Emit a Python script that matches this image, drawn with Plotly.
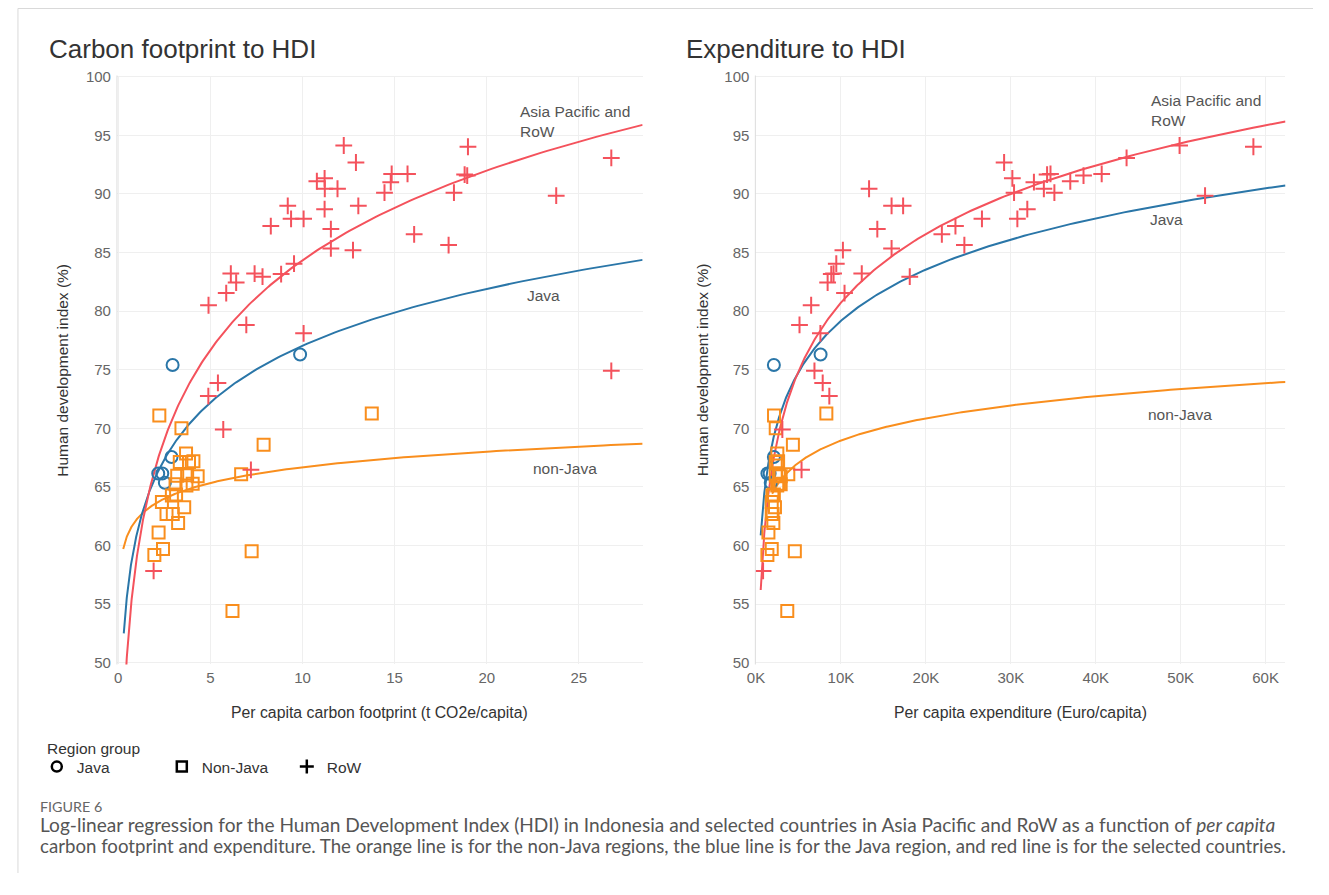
import numpy as np
import plotly.graph_objects as go

# ---- Region data: HDI (%), carbon footprint (t CO2e/capita), expenditure (thousand Euro/capita)
java_hdi = [75.4, 76.3, 67.55, 66.15, 66.15, 65.35]
java_cf = [2.95, 9.87, 2.89, 2.17, 2.39, 2.53]
java_exp = [2.1, 7.6, 2.1, 1.34, 1.6, 1.73]

nonjava_hdi = [71.1, 70.0, 68.6, 67.85, 67.13, 67.13, 67.18, 65.95, 66.0, 65.92, 66.09, 65.22, 65.11, 65.28,
               64.27, 64.36, 63.71, 63.27, 62.68, 62.68, 61.92, 61.11, 59.71, 59.18, 59.51, 54.42, 71.27]
nonjava_cf = [2.23, 3.43, 7.89, 3.68, 3.34, 3.84, 4.08, 3.2, 3.74, 4.31, 6.67, 3.11, 3.7, 4.04,
              2.91, 3.14, 2.37, 3.58, 2.62, 2.96, 3.25, 2.19, 2.43, 1.96, 7.24, 6.2, 13.76]
nonjava_exp = [2.12, 2.32, 4.34, 2.51, 2.32, 2.51, 2.6, 2.32, 2.7, 2.9, 3.8, 2.9, 2.5, 2.7,
               1.93, 2.1, 1.85, 2.23, 1.85, 1.95, 2.04, 1.46, 1.85, 1.34, 4.57, 3.68, 8.28]

row_hdi = [94.13, 94.02, 93.07, 92.68, 91.7, 91.7, 91.65, 91.56, 91.33, 91.08, 91.0, 90.44, 90.44, 90.1,
           90.1, 89.85, 88.98, 88.98, 88.7, 87.87, 87.87, 87.25, 87.0, 86.55, 85.63, 85.35, 85.2, 84.05,
           83.2, 83.2, 83.16, 82.94, 82.43, 81.54, 80.5, 78.82, 78.1, 74.9, 73.87, 72.75, 69.9, 66.46, 57.83]
row_cf = [12.24, 18.98, 26.76, 12.9, 14.84, 15.7, 18.8, 18.94, 11.2, 10.78, 14.79, 11.21, 11.9, 14.45,
          18.22, 23.77, 9.2, 13.03, 11.2, 9.38, 10.06, 8.28, 11.54, 16.06, 17.93, 11.54, 12.74, 9.54,
          6.11, 7.4, 8.84, 7.83, 6.4, 5.86, 4.9, 6.95, 10.06, 26.76, 5.41, 4.89, 5.7, 7.2, 1.92]
row_exp = [49.87, 58.56, 43.63, 29.21, 34.67, 40.7, 34.27, 38.56, 30.18, 37.0, 32.72, 33.89, 13.31, 30.38,
           35.13, 52.87, 15.96, 17.32, 31.94, 30.77, 26.6, 23.48, 14.28, 21.88, 24.53, 15.96, 10.23, 9.45,
           9.13, 12.45, 8.86, 18.1, 8.43, 10.42, 6.49, 5.12, 7.58, 6.88, 7.85, 8.63, 3.1, 5.36, 0.83]

# ---- Log-linear fits: HDI = intercept + slope * ln(x), drawn over [x_start, x_end]
fit_cf = {
    "RoW": dict(intercept=58.92, slope=11.04, x_start=0.28, x_end=28.46),
    "Java": dict(intercept=60.93, slope=7.0, x_start=0.3, x_end=28.46),
    "Non-Java": dict(intercept=62.23, slope=1.93, x_start=0.27, x_end=28.46),
}
fit_exp = {
    "RoW": dict(intercept=61.26, slope=8.45, x_start=0.55, x_end=62.34),
    "Java": dict(intercept=64.64, slope=6.31, x_start=0.55, x_end=62.34),
    "Non-Java": dict(intercept=62.67, slope=2.73, x_start=1.9, x_end=62.34),
}

cf_ticks = [0, 5, 10, 15, 20, 25]
exp_ticks = [0, 10, 20, 30, 40, 50, 60]
exp_tick_text = ["0K", "10K", "20K", "30K", "40K", "50K", "60K"]
hdi_ticks = [50, 55, 60, 65, 70, 75, 80, 85, 90, 95, 100]

COLORS = {"Java": "#2a76a8", "Non-Java": "#f98e1d", "RoW": "#f4525c"}
SYMBOLS = {"Java": "circle-open", "Non-Java": "square-open", "RoW": "cross-thin-open"}
FONT = "Liberation Sans"

# the page body keeps its default 8px margin, so the figure is 16px smaller than the window
PAGE_W, PAGE_H, BODY_MARGIN = 1329, 895, 8
W, H = PAGE_W - 2 * BODY_MARGIN, PAGE_H - 2 * BODY_MARGIN


def px_x(p):
    """Page x pixel -> paper fraction."""
    return (p - BODY_MARGIN) / W


def px_y(p):
    """Page y pixel (from top) -> paper fraction."""
    return 1 - (p - BODY_MARGIN) / H


fig = go.Figure()

groups = [
    ("Java", java_hdi, java_cf, java_exp),
    ("Non-Java", nonjava_hdi, nonjava_cf, nonjava_exp),
    ("RoW", row_hdi, row_cf, row_exp),
]

# fitted curves
for fits, xa, ya in [(fit_cf, "x", "y"), (fit_exp, "x2", "y2")]:
    for name in ["Non-Java", "Java", "RoW"]:
        f = fits[name]
        xs = np.geomspace(f["x_start"], f["x_end"], 300)
        ys = f["intercept"] + f["slope"] * np.log(xs)
        fig.add_trace(go.Scatter(x=xs, y=ys, mode="lines", xaxis=xa, yaxis=ya,
                                 line=dict(color=COLORS[name], width=2),
                                 showlegend=False, hoverinfo="skip"))

# region markers
for name, hdi, cf, exp in groups:
    mk = dict(symbol=SYMBOLS[name], size=12, color=COLORS[name], line=dict(width=2, color=COLORS[name]))
    fig.add_trace(go.Scatter(x=cf, y=hdi, mode="markers", marker=mk, xaxis="x", yaxis="y",
                             showlegend=False, name=name))
    fig.add_trace(go.Scatter(x=exp, y=hdi, mode="markers", marker=mk, xaxis="x2", yaxis="y2",
                             showlegend=False, name=name))

# legend entries (black symbols)
for name in ["Java", "Non-Java", "RoW"]:
    fig.add_trace(go.Scatter(x=[None], y=[None], mode="markers", name=name,
                             marker=dict(symbol=SYMBOLS[name], size=10, color="black",
                                         line=dict(width=2.5, color="black"))))

y_dom = [px_y(675.1), px_y(76.6)]
grid = "#efefef"
tickfont = dict(family=FONT, size=15, color="#666")
x_common = dict(showgrid=True, gridcolor=grid, gridwidth=1, zeroline=False, showline=False,
                ticks="", tickfont=tickfont, ticklabelstandoff=3)
y_common = dict(showgrid=True, gridcolor=grid, gridwidth=1, zeroline=False, showline=False,
                ticks="", tickfont=tickfont, ticklabelstandoff=5)

fig.update_layout(
    width=W, height=H,
    margin=dict(l=0, r=0, t=0, b=0),
    paper_bgcolor="white", plot_bgcolor="white",
    font=dict(family=FONT, color="#333"),
    xaxis=dict(domain=[px_x(116.7), px_x(646)], range=[-0.07, 28.46], tickvals=cf_ticks,
               anchor="y", **x_common),
    yaxis=dict(domain=y_dom, range=[49.85, 100.1], tickvals=hdi_ticks, anchor="x", **y_common),
    xaxis2=dict(domain=[px_x(759.5), px_x(1293.3)], range=[-0.08, 62.34], tickvals=exp_ticks,
                ticktext=exp_tick_text, anchor="y2", **x_common),
    yaxis2=dict(domain=y_dom, range=[49.85, 100.1], tickvals=hdi_ticks, anchor="x2", **y_common),
    legend=dict(orientation="h", x=px_x(36), y=px_y(762), xanchor="left", yanchor="top",
                font=dict(family=FONT, size=15.5, color="#333"),
                entrywidth=80, entrywidthmode="pixels", itemclick=False, bgcolor="rgba(0,0,0,0)"),
    showlegend=True,
)

# axis frame lines on the left of each plot
for x0 in [116.7, 759.5]:
    fig.add_shape(type="line", xref="paper", yref="paper", x0=px_x(x0), x1=px_x(x0),
                  y0=y_dom[0], y1=y_dom[1], line=dict(color="#dcdcdc", width=1))

ann = []
# chart titles
ann.append(dict(text="Carbon footprint to HDI", x=px_x(46), y=px_y(50), xanchor="left", yanchor="middle",
                font=dict(family=FONT, size=26, color="#333")))
ann.append(dict(text="Expenditure to HDI", x=px_x(688), y=px_y(50), xanchor="left", yanchor="middle",
                font=dict(family=FONT, size=26, color="#333")))
# axis titles
axt_font = dict(family=FONT, size=15.5, color="#333")
for xc in [62, 706]:
    ann.append(dict(text="Human development index (%)", x=px_x(xc), y=px_y(376), textangle=-90,
                    xanchor="center", yanchor="middle", font=axt_font))
ann.append(dict(text="Per capita carbon footprint (t CO2e/capita)", x=px_x(381), y=px_y(724),
                xanchor="center", yanchor="middle", font=dict(family=FONT, size=15.8, color="#333")))
ann.append(dict(text="Per capita expenditure (Euro/capita)", x=px_x(1026), y=px_y(724),
                xanchor="center", yanchor="middle", font=dict(family=FONT, size=15.8, color="#333")))
# legend heading
ann.append(dict(text="Region group", x=px_x(44), y=px_y(760), xanchor="left", yanchor="middle",
                font=dict(family=FONT, size=15.5, color="#333")))
# curve labels
lab_font = dict(family=FONT, size=15.5, color="#555")
ann.append(dict(text="Asia Pacific and<br>RoW", x=px_x(521), y=px_y(123), xanchor="left", yanchor="middle",
                align="left", font=lab_font))
ann.append(dict(text="Java", x=px_x(528), y=px_y(300), xanchor="left", yanchor="middle", font=lab_font))
ann.append(dict(text="non-Java", x=px_x(534), y=px_y(476), xanchor="left", yanchor="middle", font=lab_font))
ann.append(dict(text="Asia Pacific and<br>RoW", x=px_x(1156), y=px_y(112), xanchor="left", yanchor="middle",
                align="left", font=lab_font))
ann.append(dict(text="Java", x=px_x(1155), y=px_y(223), xanchor="left", yanchor="middle", font=lab_font))
ann.append(dict(text="non-Java", x=px_x(1153), y=px_y(421), xanchor="left", yanchor="middle", font=lab_font))
# figure caption
ann.append(dict(text="FIGURE 6", x=px_x(37), y=px_y(819), xanchor="left", yanchor="middle",
                font=dict(family="Lato", size=14.3, color="#666")))
ann.append(dict(text="Log-linear regression for the Human Development Index (HDI) in Indonesia and selected countries "
                     "in Asia Pacific and RoW as a function of <i>per capita</i>",
                x=px_x(37), y=px_y(838), xanchor="left", yanchor="middle",
                font=dict(family="Lato", size=19.1, color="#555")))
ann.append(dict(text="carbon footprint and expenditure. The orange line is for the non-Java regions, the blue line "
                     "is for the Java region, and red line is for the selected countries.",
                x=px_x(37), y=px_y(860), xanchor="left", yanchor="middle",
                font=dict(family="Lato", size=18.65, color="#555")))
for a in ann:
    a.update(xref="paper", yref="paper", showarrow=False)
fig.update_layout(annotations=ann)

# card border
fig.add_shape(type="line", xref="paper", yref="paper", x0=px_x(17), x1=1, y0=px_y(8.5), y1=px_y(8.5),
              line=dict(color="#d9d9d9", width=1))
fig.add_shape(type="line", xref="paper", yref="paper", x0=px_x(17), x1=px_x(17), y0=px_y(8.5), y1=0,
              line=dict(color="#d9d9d9", width=1))

fig.write_html("out.html")
